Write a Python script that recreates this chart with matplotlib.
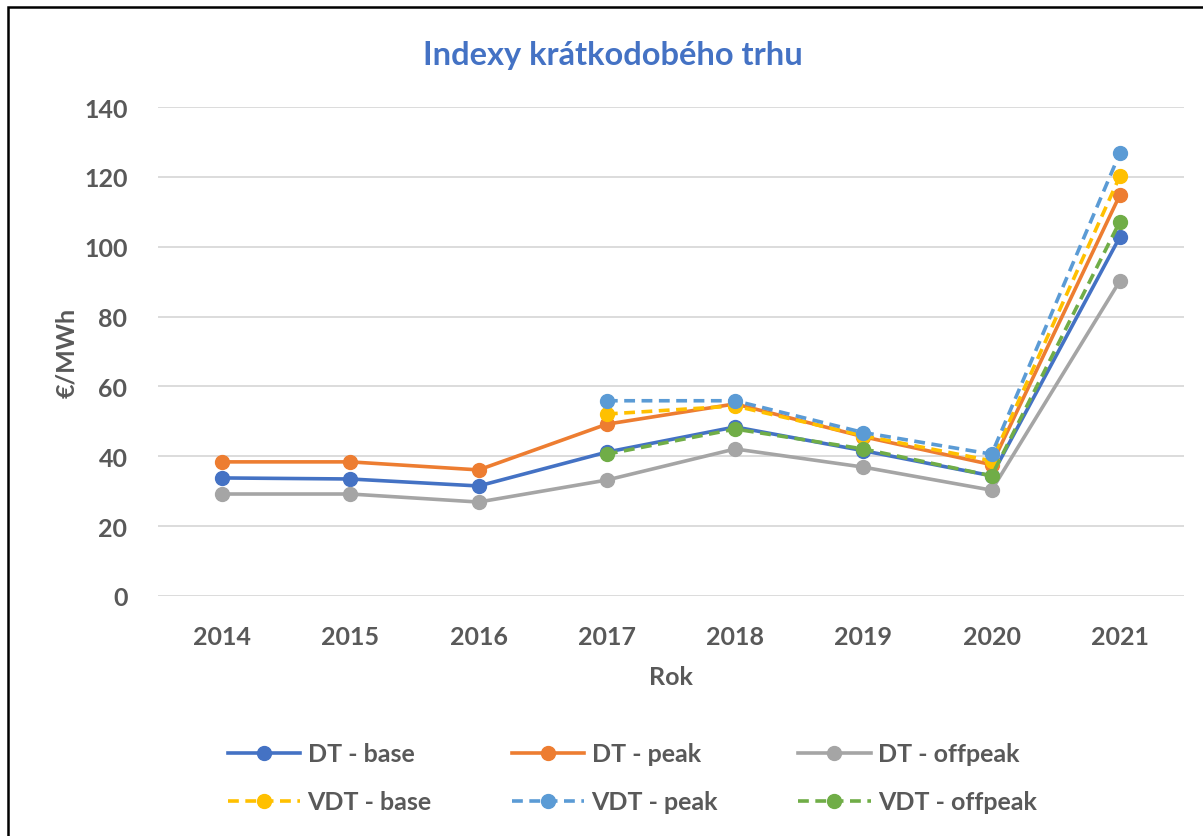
import matplotlib.pyplot as plt
from matplotlib.patches import Rectangle

plt.rcParams['font.family'] = ['Lato', 'DejaVu Sans']

years = ['2014', '2015', '2016', '2017', '2018', '2019', '2020', '2021']
dt_base = [33.8, 33.5, 31.5, 41.2, 48.4, 41.6, 34.4, 102.8]
dt_peak = [38.4, 38.4, 36.1, 49.2, 55.0, 45.6, 37.6, 114.8]
dt_offpeak = [29.2, 29.2, 26.9, 33.2, 42.1, 36.9, 30.3, 90.2]
# VDT series start in 2017
vdt_base = [52.1, 54.4, 45.9, 38.7, 120.2]
vdt_peak = [55.9, 55.9, 46.8, 40.6, 126.8]
vdt_offpeak = [40.6, 47.8, 42.1, 34.4, 107.2]

grey = '#595959'
fig = plt.figure(figsize=(12.03, 8.37), dpi=100)
ax = fig.add_axes([158/1203, 1-597/837, (1184-158)/1203, (597-108)/837])

x = list(range(len(years)))
xv = x[3:]

series = [
    (x, dt_base, '#4472C4', '-', 'DT - base'),
    (x, dt_peak, '#ED7D31', '-', 'DT - peak'),
    (x, dt_offpeak, '#A5A5A5', '-', 'DT - offpeak'),
    (xv, vdt_base, '#FFC000', '--', 'VDT - base'),
    (xv, vdt_peak, '#5B9BD5', '--', 'VDT - peak'),
    (xv, vdt_offpeak, '#70AD47', '--', 'VDT - offpeak'),
]
lines = {}
for xs, ys, c, ls, lab in series:
    l, = ax.plot(xs, ys, color=c, ls=ls, lw=2.6, marker='o', ms=10, label=lab)
    if ls == '--':
        l.set_dashes((3, 1.8))
    lines[lab] = l

ax.set_xlim(-0.5, 7.5)
ax.set_ylim(0, 140)
ax.set_yticks(range(0, 141, 20))
ax.set_xticks(x)
ax.set_xticklabels(years)
ax.grid(axis='y', color='#D9D9D9', lw=1.3)
ax.set_axisbelow(True)
for s in ax.spines.values():
    s.set_visible(False)
ax.tick_params(length=0, labelsize=18, labelcolor=grey)
for t in ax.get_xticklabels() + ax.get_yticklabels():
    t.set_fontweight('bold')
ax.tick_params(axis='x', pad=21)
ax.tick_params(axis='y', pad=22)

ax.set_ylabel('€/MWh', fontsize=18, fontweight='bold', color=grey, labelpad=4)
ax.set_xlabel('Rok', fontsize=18, fontweight='bold', color=grey, labelpad=12)

fig.text(613/1203, 1-56/837, 'Indexy krátkodobého trhu', ha='center', va='center',
         fontsize=23.5, fontweight='bold', color='#4472C4')

order = ['DT - base', 'VDT - base', 'DT - peak', 'VDT - peak', 'DT - offpeak', 'VDT - offpeak']
leg = fig.legend([lines[k] for k in order], order, ncol=3, loc='upper left',
                 bbox_to_anchor=(205/1203, 1-721/837), frameon=False,
                 prop={'size': 18, 'weight': 'bold'}, handlelength=2.9,
                 handletextpad=0.3, columnspacing=3.2, labelspacing=1.0)
for t in leg.get_texts():
    t.set_color(grey)

fig.patches.append(Rectangle((8/1203, -0.1), 1.2, 1-8/837+0.1, transform=fig.transFigure,
                             fill=False, ec='black', lw=1.8))

fig.savefig('out.png', dpi=100)
